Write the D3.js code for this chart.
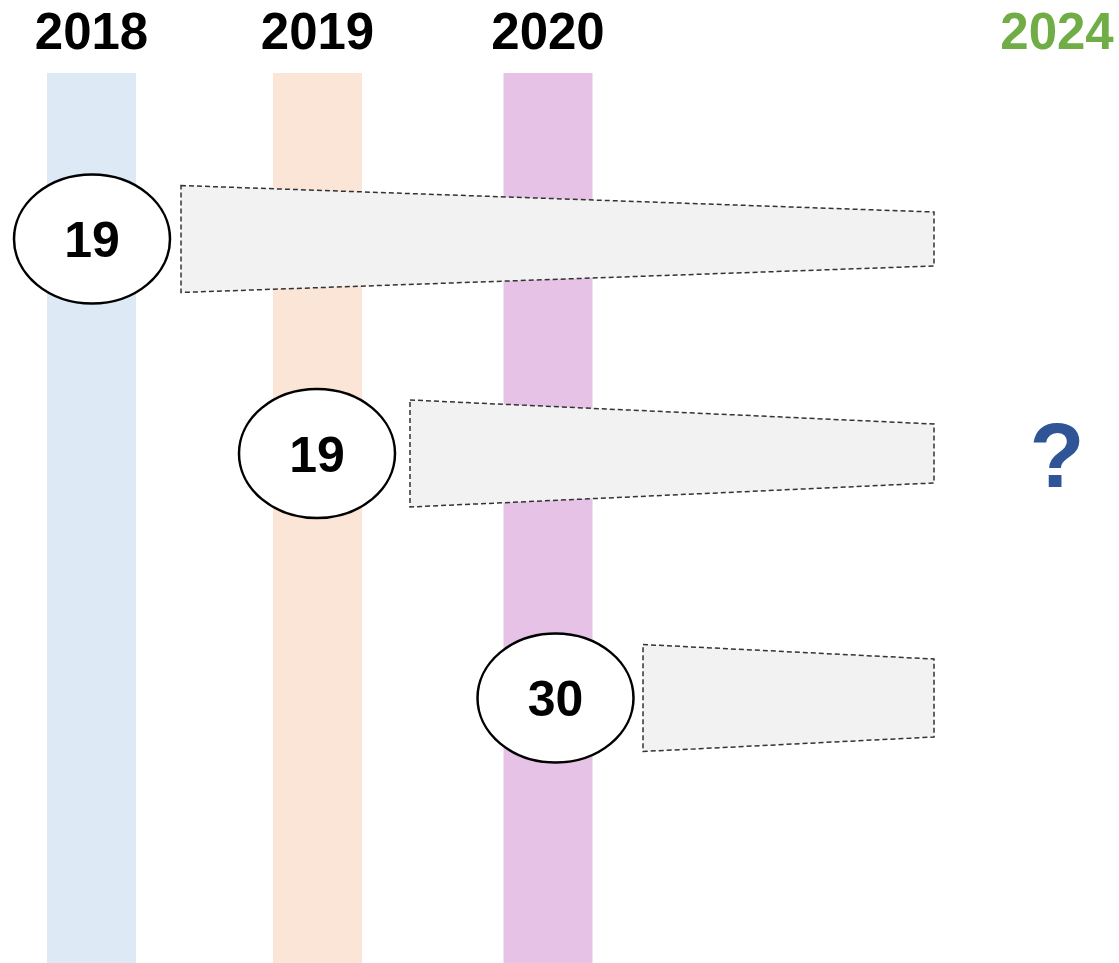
<!DOCTYPE html>
<html>
<head>
<meta charset="utf-8">
<script src="https://cdn.jsdelivr.net/npm/d3@7"></script>
<style>
    html, body { margin: 0; padding: 0; background: #fff; }
    svg { display: block; font-family: 'Liberation Sans', Arial, sans-serif; }
</style>
</head>
<body>
<svg width="1119" height="963"></svg>
<script>
(() => {

    // Cohort years shown as vertical bands, plus the target year
    const years = [2018, 2019, 2020];
    const targetYear = 2024;
    // Number shown in each cohort bubble
    const counts = [19, 19, 30];
    const bandColors = ['#ddeaf6', '#fbe5d6', '#e6c3e6'];

    const svg = d3.select('svg'),
            width = +svg.attr('width'),
            height = +svg.attr('height');

    // Horizontal position of each year band / label (uneven spacing)
    const x = d3.scaleLinear()
            .domain([2018, 2019, 2020, 2024])
            .range([91.5, 317.5, 548, 1057]);

    // Bubbles sit slightly off the band centres
    const bubbleX = d3.scaleLinear()
            .domain([2018, 2019, 2020])
            .range([92, 317, 555.5]);

    // Where each arrow starts
    const arrowX = d3.scaleLinear()
            .domain([2018, 2019, 2020])
            .range([181, 410, 643]);

    // Vertical position of each cohort row
    const y = d3.scaleLinear()
            .domain([2018, 2019, 2020])
            .range([239, 453.5, 698]);

    // Half height of the arrow at its far (right) end
    const tipHalf = d3.scaleLinear()
            .domain([2018, 2019, 2020])
            .range([27, 29.5, 39]);

    const bandWidth = 89,
            rx = 78,
            ry = 64.5,
            arrowHalf = 53.5,
            arrowEnd = 934;

    const rows = years.map((yr, i) => ({ year: yr, count: counts[i], color: bandColors[i] }));

    // Bands
    svg.append('g')
            .selectAll('rect')
            .data(rows)
            .enter().append('rect')
            .attr('x', d => x(d.year) - bandWidth / 2)
            .attr('y', 73)
            .attr('width', bandWidth)
            .attr('height', height - 73)
            .attr('fill', d => d.color);

    // Year labels
    svg.append('g')
            .selectAll('text')
            .data(years.concat([targetYear]))
            .enter().append('text')
            .attr('x', d => x(d))
            .attr('y', 49)
            .attr('text-anchor', 'middle')
            .attr('font-size', '51px')
            .attr('font-weight', 'bold')
            .attr('fill', d => d === targetYear ? '#70ad47' : '#000')
            .text(d => d);

    // Tapered arrows
    const arrowPts = d => {
        const x0 = arrowX(d.year),
                cy = y(d.year),
                h = tipHalf(d.year);
        return [[x0, cy - arrowHalf], [arrowEnd, cy - h], [arrowEnd, cy + h], [x0, cy + arrowHalf]];
    };

    svg.append('g')
            .selectAll('polygon')
            .data(rows)
            .enter().append('polygon')
            .attr('points', d => arrowPts(d).map(p => p.join(',')).join(' '))
            .attr('fill', '#f2f2f2')
            .attr('stroke', '#333')
            .attr('stroke-width', 1.5)
            .attr('stroke-dasharray', '5,3');

    // Bubbles
    const bubble = svg.append('g')
            .selectAll('g')
            .data(rows)
            .enter().append('g')
            .attr('transform', d => `translate(${bubbleX(d.year)},${y(d.year)})`);

    bubble.append('ellipse')
            .attr('rx', rx)
            .attr('ry', ry)
            .attr('fill', '#fff')
            .attr('stroke', '#000')
            .attr('stroke-width', 2.5);

    bubble.append('text')
            .attr('text-anchor', 'middle')
            .attr('dy', '0.36em')
            .attr('font-size', '50px')
            .attr('font-weight', 'bold')
            .text(d => d.count);

    // Unknown outcome for the target year
    svg.append('text')
            .attr('x', x(targetYear))
            .attr('y', y(2019) + 33)
            .attr('text-anchor', 'middle')
            .attr('font-size', '90px')
            .attr('font-weight', 'bold')
            .attr('fill', '#2f5597')
            .text('?');

})();
</script>
</body>
</html>
